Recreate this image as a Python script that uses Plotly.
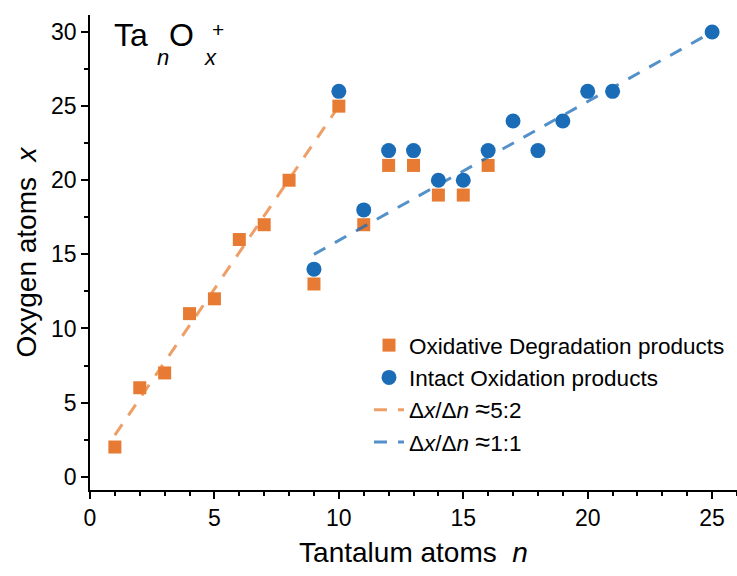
import plotly.graph_objects as go

# Data
deg_n = [1, 2, 3, 4, 5, 6, 7, 8, 9, 10, 11, 12, 13, 14, 15, 16]
deg_x = [2, 6, 7, 11, 12, 16, 17, 20, 13, 25, 17, 21, 21, 19, 19, 21]

int_n = [9, 10, 11, 12, 13, 14, 15, 16, 17, 18, 19, 20, 21, 25]
int_x = [14, 26, 18, 22, 22, 20, 20, 22, 24, 22, 24, 26, 26, 30]

fit52_n = [1, 10]
fit52_x = [2.8, 25]
fit11_n = [9, 25]
fit11_x = [15, 30]

x_ticks = [0, 5, 10, 15, 20, 25]
y_ticks = [0, 5, 10, 15, 20, 25, 30]

ORANGE = "#E77B33"
BLUE = "#1B6CB7"
FONT = "Liberation Sans, Arial, sans-serif"
APPROX = '<span style="font-size:27px">≈</span>'

fig = go.Figure()
fig.add_trace(go.Scatter(
    x=deg_n, y=deg_x, mode="markers", name="Oxidative Degradation products",
    marker=dict(symbol="square", size=13, color=ORANGE, line=dict(width=0))))
fig.add_trace(go.Scatter(
    x=int_n, y=int_x, mode="markers", name="Intact Oxidation products",
    marker=dict(symbol="circle", size=15, color=BLUE, line=dict(width=0))))
fig.add_trace(go.Scatter(
    x=fit52_n, y=fit52_x, mode="lines", name="Δ<i>x</i>/Δ<i>n</i> " + APPROX + "5:2",
    line=dict(color="rgba(232,125,52,0.75)", width=3, dash="13px,11px")))
fig.add_trace(go.Scatter(
    x=fit11_n, y=fit11_x, mode="lines", name="Δ<i>x</i>/Δ<i>n</i> " + APPROX + "1:1",
    line=dict(color="rgba(27,108,183,0.75)", width=3, dash="13px,11px")))

L, R, T, B = 90, 0, 15, 86
W, H = 737, 576
pw, ph = W - L - R, H - T - B

def px(xp):
    return (xp - L) / pw

def py(yp):
    return (H - B - yp) / ph

axis_common = dict(
    showline=True, linecolor="black", linewidth=1.5, showgrid=False, zeroline=False,
    ticks="outside", tickcolor="black", tickwidth=1.5, ticklen=7,
    tickfont=dict(family=FONT, size=23, color="black"),
    mirror=False,
)

fig.update_layout(
    width=W, height=H,
    margin=dict(l=L, r=R, t=T, b=B),
    plot_bgcolor="white", paper_bgcolor="white",
    font=dict(family=FONT, color="black"),
    xaxis=dict(range=[0, 26], tickvals=x_ticks,
               minor=dict(dtick=1, ticks="outside", ticklen=4, tickcolor="black", tickwidth=1.5),
               title=dict(text="Tantalum atoms  <i>n</i>", font=dict(family=FONT, size=28), standoff=12),
               **axis_common),
    yaxis=dict(range=[-0.9, 31.15], tickvals=y_ticks,
               minor=dict(dtick=2.5, tick0=0, ticks="outside", ticklen=4, tickcolor="black", tickwidth=1.5),
               title=dict(text="Oxygen atoms  <i>x</i>", font=dict(family=FONT, size=28), standoff=6),
               **axis_common),
    legend=dict(x=px(369), y=py(324), xanchor="left", yanchor="top",
                bgcolor="rgba(0,0,0,0)", font=dict(family=FONT, size=22.5, color="black"),
                tracegroupgap=0),
    showlegend=True,
)

# Formula label Ta_n O_x^+
ann = [
    dict(text="Ta", x=px(112), y=py(35.5), size=32),
    dict(text="<i>n</i>", x=px(154.5), y=py(57), size=22),
    dict(text="O", x=px(167), y=py(35.5), size=32),
    dict(text="<i>x</i>", x=px(202), y=py(57), size=22),
    dict(text="+", x=px(210), y=py(29), size=21),
]
for a in ann:
    fig.add_annotation(text=a["text"], x=a["x"], y=a["y"], xref="paper", yref="paper",
                       xanchor="left", yanchor="middle", showarrow=False,
                       font=dict(family=FONT, size=a["size"], color="black"))

fig.write_html("out.html")
